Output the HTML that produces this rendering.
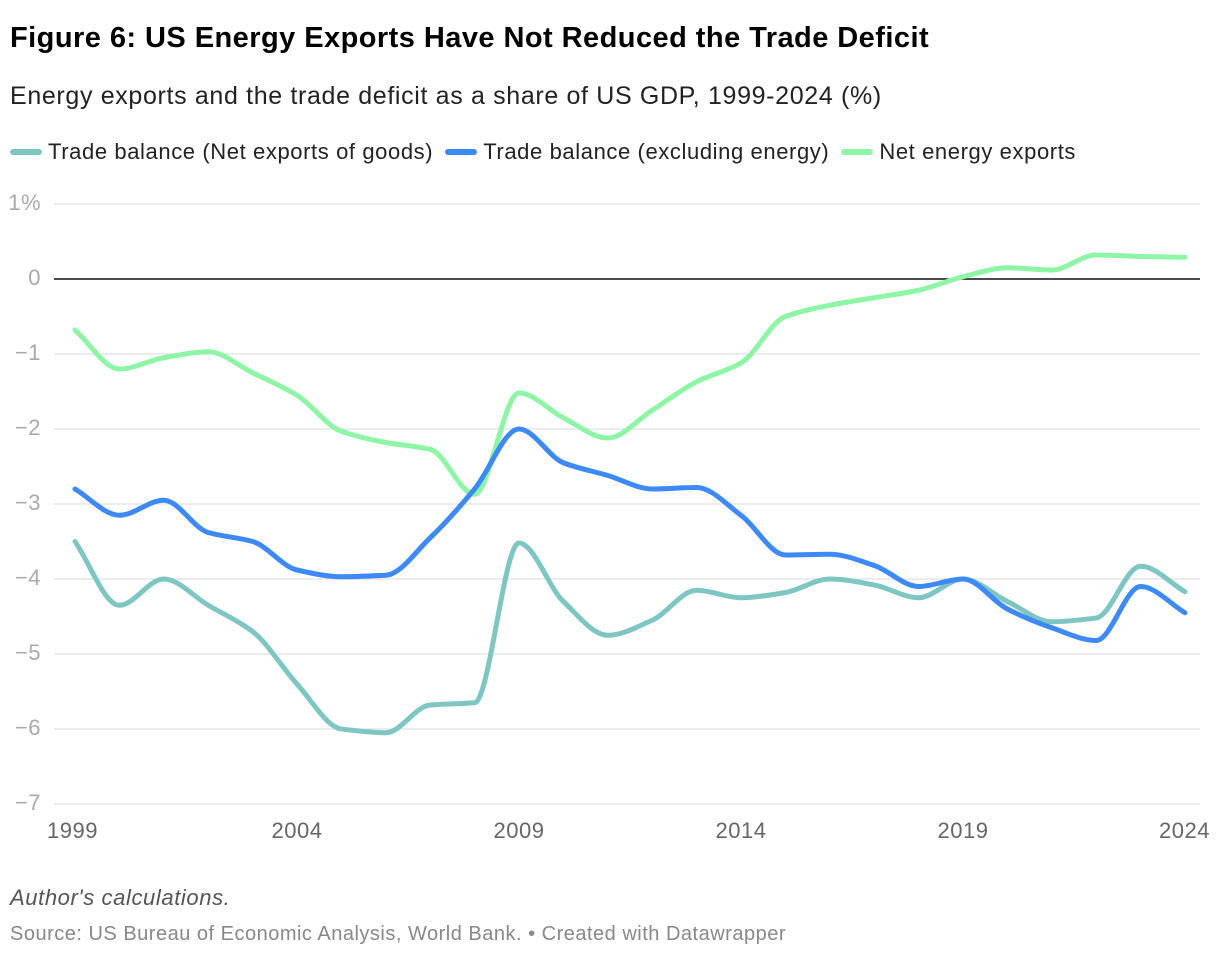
<!DOCTYPE html>
<html><head><meta charset="utf-8">
<style>
body{margin:0;background:#fff;font-family:"Liberation Sans",Arial,sans-serif;}
#wrap{position:relative;width:1220px;height:958px;overflow:hidden;}
h1{position:absolute;left:10px;top:22px;margin:0;font-size:29px;font-weight:bold;color:#000;letter-spacing:0.45px}
.sub{position:absolute;left:10px;top:82px;font-size:25px;color:#222;letter-spacing:0.65px}
.legend{position:absolute;top:139px;left:10px;font-size:22px;color:#222;display:flex;gap:0;letter-spacing:0.6px}
.li{display:flex;align-items:center;margin-right:12px}
.sw{width:32px;height:6px;border-radius:3px;margin-right:6px}
.note{position:absolute;left:10px;top:885px;font-size:22px;font-style:italic;color:#555;letter-spacing:0.6px}
.src{position:absolute;left:10px;top:923px;font-size:20px;color:#888;letter-spacing:0.5px}
</style></head><body>
<div id="wrap">
<h1>Figure 6: US Energy Exports Have Not Reduced the Trade Deficit</h1>
<div class="sub">Energy exports and the trade deficit as a share of US GDP, 1999-2024 (%)</div>
<div class="legend">
<div class="li"><div class="sw" style="background:#7dc6c1"></div>Trade balance (Net exports of goods)</div>
<div class="li"><div class="sw" style="background:#3d8af7"></div>Trade balance (excluding energy)</div>
<div class="li"><div class="sw" style="background:#8ef5a6"></div>Net energy exports</div>
</div>
<svg id="chart" width="1220" height="958" style="position:absolute;left:0;top:0"></svg>
<div class="note">Author's calculations.</div>
<div class="src">Source: US Bureau of Economic Analysis, World Bank. • Created with Datawrapper</div>
</div>
<script>
const years=[1999,2000,2001,2002,2003,2004,2005,2006,2007,2008,2009,2010,2011,2012,2013,2014,2015,2016,2017,2018,2019,2020,2021,2022,2023,2024];
const goods=[-3.5,-4.35,-4.0,-4.35,-4.7,-5.4,-6.0,-6.05,-5.68,-5.65,-3.52,-4.3,-4.75,-4.55,-4.15,-4.25,-4.18,-4.0,-4.08,-4.25,-4.0,-4.3,-4.57,-4.52,-3.83,-4.17];
const exclEnergy=[-2.8,-3.15,-2.95,-3.38,-3.5,-3.88,-3.97,-3.95,-3.45,-2.8,-2.0,-2.45,-2.62,-2.8,-2.78,-3.15,-3.68,-3.67,-3.82,-4.1,-4.0,-4.4,-4.65,-4.82,-4.1,-4.45];
const energy=[-0.68,-1.2,-1.05,-0.97,-1.25,-1.55,-2.03,-2.18,-2.27,-2.87,-1.52,-1.85,-2.12,-1.75,-1.37,-1.12,-0.5,-0.35,-0.25,-0.15,0.03,0.15,0.12,0.32,0.3,0.29];
const yTicks=[1,0,-1,-2,-3,-4,-5,-6,-7];
const yTickLabels=["1%","0","−1","−2","−3","−4","−5","−6","−7"];
const xTicks=[1999,2004,2009,2014,2019,2024];

const svg=document.getElementById('chart');
const NS='http://www.w3.org/2000/svg';
const X0=75,X1=1185,Y1v=204,Y0v=279;
const x=v=>X0+(v-1999)*(X1-X0)/(2024-1999);
const y=v=>Y0v-v*(Y0v-Y1v);
function mk(t,a){const e=document.createElementNS(NS,t);for(const k in a)e.setAttribute(k,a[k]);svg.appendChild(e);return e;}
yTicks.forEach((t,i)=>{
  const l=mk('line',{x1:54,x2:1200,y1:y(t),y2:y(t),stroke:t===0?'#111':'#e0e0e0','stroke-width':t===0?1.5:1.2});
  
  
  const tx=mk('text',{x:41,y:y(t)+6,'text-anchor':'end','font-size':22,fill:'#aaa','font-family':'Liberation Sans, sans-serif','letter-spacing':'0.5'});
  tx.textContent=yTickLabels[i];
  
  
});
xTicks.forEach((t,i)=>{
  const anchor=i===0?'start':(i===xTicks.length-1?'end':'middle');
  const xx=i===0?x(t)-28:(i===xTicks.length-1?x(t)+25:x(t));
  const tx=mk('text',{x:xx,y:838,'text-anchor':anchor,'font-size':22,fill:'#666','font-family':'Liberation Sans, sans-serif','letter-spacing':'0.5'});
  tx.textContent=t;
  
  
});
function path(vals){
  const p=vals.map((v,i)=>[x(years[i]),y(v)]);
  const n=p.length,d=[],m=[];
  for(let i=0;i<n-1;i++)d.push((p[i+1][1]-p[i][1])/(p[i+1][0]-p[i][0]));
  m[0]=d[0];m[n-1]=d[n-2];
  for(let i=1;i<n-1;i++){
    if(d[i-1]*d[i]<=0)m[i]=0;
    else m[i]=3*(d[i-1]+d[i])/( (2*d[i]+d[i-1])/d[i-1] + (d[i]+2*d[i-1])/d[i] );
  }
  let s='M'+p[0][0]+','+p[0][1];
  for(let i=0;i<n-1;i++){
    const h=(p[i+1][0]-p[i][0])/3;
    s+=' C'+(p[i][0]+h)+','+(p[i][1]+m[i]*h)+' '+(p[i+1][0]-h)+','+(p[i+1][1]-m[i+1]*h)+' '+p[i+1][0]+','+p[i+1][1];
  }
  return s;
}
[[energy,'#8ef5a6','line-net-energy'],[goods,'#7dc6c1','line-goods-balance'],[exclEnergy,'#3d8af7','line-excl-energy']].forEach(s=>{
  const e=mk('path',{d:path(s[0]),fill:'none',stroke:s[1],'stroke-width':5,'stroke-linecap':'round','stroke-linejoin':'round'});
  
  
});
</script>
</body></html>
